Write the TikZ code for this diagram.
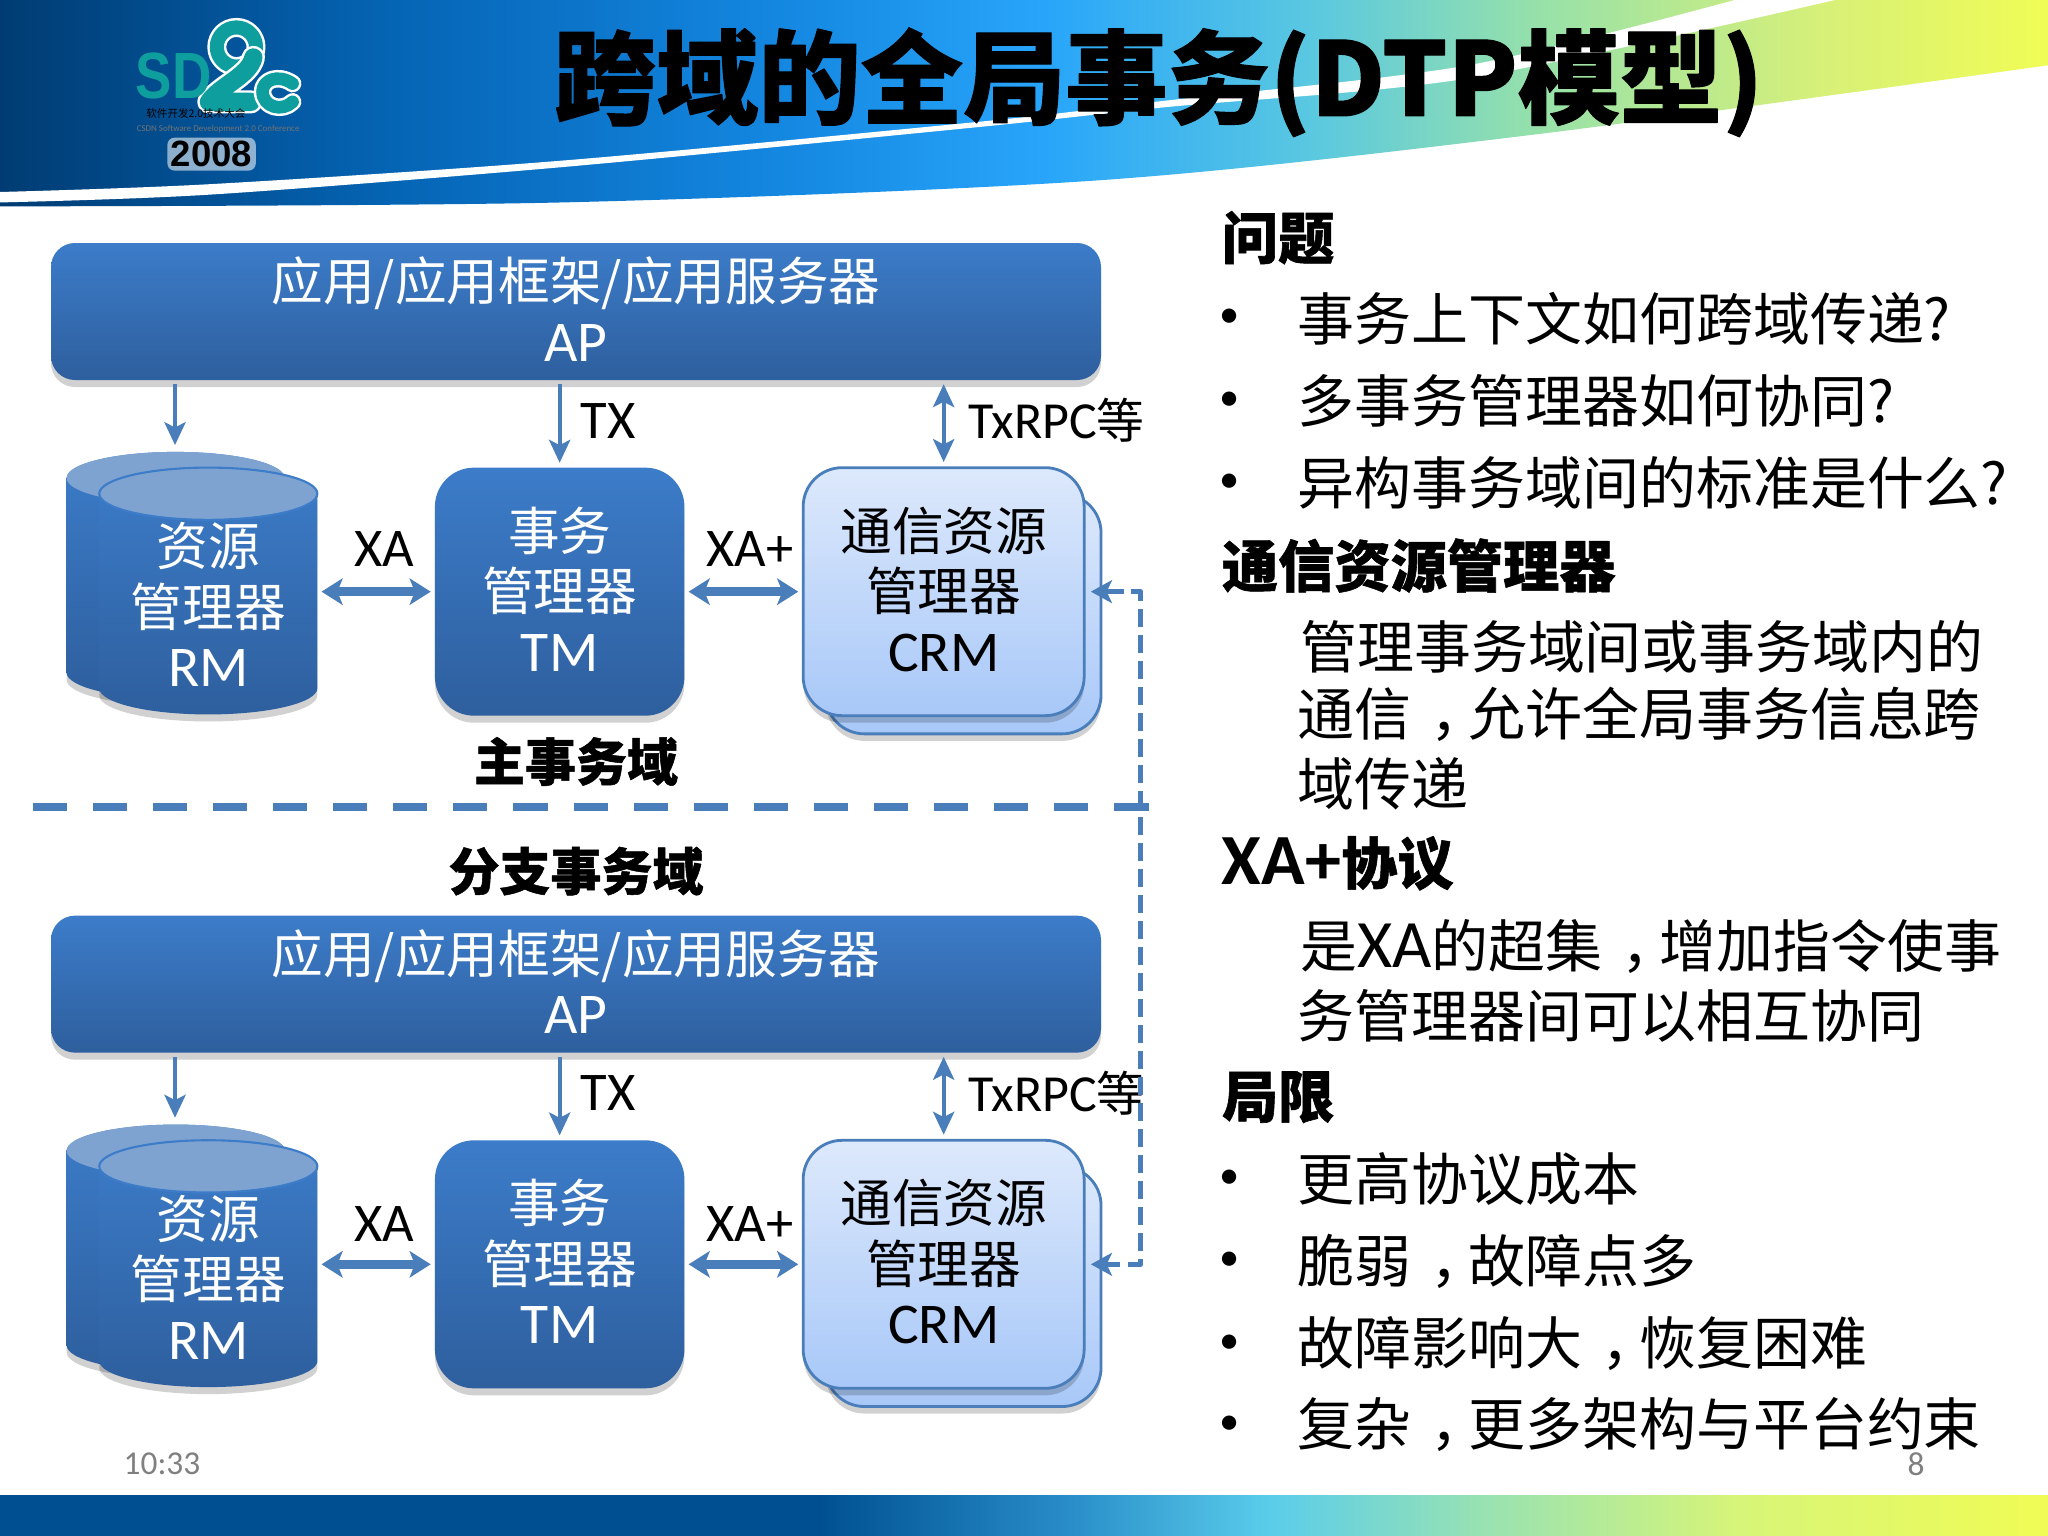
\documentclass[tikz,border=0pt]{standalone}
\usepackage{fontspec}
\usetikzlibrary{arrows.meta,shadows}
\setmainfont{Carlito}
\newfontfamily\cjk{Noto Sans CJK SC}
\newfontfamily\cjkhv[BoldFeatures={FakeBold=1}]{Noto Sans CJK SC}
\newfontfamily\arialb{Liberation Sans}
\newcommand\cn[1]{{\cjk\fontsize{14.7}{17.2}\selectfont #1}}
\newcommand\lastpad{\rule[-1.5pt]{0pt}{0pt}}
\newcommand\zhcomma{\hbox to 1em{\hskip .33em ，\hss}}
\definecolor{boxtop}{HTML}{3C7CC9}
\definecolor{boxbot}{HTML}{2E5F9E}
\definecolor{lnblue}{HTML}{4A7EBB}
\definecolor{crmtop}{HTML}{DDE9FC}
\definecolor{crmbot}{HTML}{A8C8F8}
\definecolor{capblue}{HTML}{7FA3D1}
\definecolor{logoteal}{HTML}{0F9E9E}
\definecolor{hza}{HTML}{003C73}
\definecolor{hzb}{HTML}{0564B4}
\definecolor{hzc}{HTML}{1487E1}
\definecolor{hzd}{HTML}{28A5FA}
\definecolor{hze}{HTML}{5AC8E1}
\definecolor{hzf}{HTML}{96E1AA}
\definecolor{hzg}{HTML}{D7F078}
\definecolor{hzh}{HTML}{F0FC55}
\definecolor{fza}{HTML}{005091}
\definecolor{fzb}{HTML}{288CC8}
\definecolor{fzc}{HTML}{5ACDEB}
\definecolor{fzd}{HTML}{96E1B4}
\definecolor{fze}{HTML}{D7F578}
\pgfdeclarehorizontalshading{headshade}{100bp}{color(0bp)=(hza);color(25bp)=(hza);color(34.5bp)=(hzb);color(44bp)=(hzc);color(50.5bp)=(hzd);color(57bp)=(hze);color(62.5bp)=(hzf);color(69.5bp)=(hzg);color(75bp)=(hzh);color(100bp)=(hzh)}
\pgfdeclarehorizontalshading{footshade}{100bp}{color(0bp)=(fza);color(45bp)=(fza);color(51bp)=(fzb);color(56bp)=(fzc);color(61bp)=(fzd);color(67.5bp)=(fze);color(75bp)=(hzh);color(100bp)=(hzh)}
\tikzset{
	softshadow/.style={drop shadow={shadow xshift=0pt,shadow yshift=-2pt,opacity=.18,fill=black}},
	bluebox/.style={rounded corners=.39cm,top color=boxtop,bottom color=boxbot,softshadow,text=white,align=center,inner sep=0pt,font=\fontsize{16.4}{17.2}\selectfont},
	apbox/.style={bluebox,rounded corners=.24cm,minimum width=10.5cm,minimum height=1.37cm},
	tmbox/.style={bluebox,minimum width=2.495cm,minimum height=2.48cm},
	crmbox/.style={rounded corners=.39cm,draw=lnblue,line width=.8pt,top color=crmtop,bottom color=crmbot,softshadow,align=center,inner sep=0pt,font=\fontsize{16.4}{17.2}\selectfont},
	cylfill/.style={top color=boxtop,bottom color=boxbot},
	linklab/.style={inner sep=0pt,font=\fontsize{15.5}{17}\selectfont},
	thinlink/.style={draw=lnblue,line width=1.2pt,shorten >=1.2pt,shorten <=1pt,>={Stealth[length=6.5pt,width=6pt,inset=1.5pt]}},
	fatlink/.style={draw=lnblue,line width=2.4pt,shorten >=1pt,shorten <=1pt,>={Stealth[length=6pt,width=7.5pt,inset=1.5pt]}},
	bodytxt/.style={anchor=west,inner sep=0pt,font=\cjk\fontsize{16.2}{18}\selectfont},
	headtxt/.style={anchor=west,inner sep=0pt,font=\cjkhv\bfseries\fontsize{16}{18}\selectfont},
	bulletdot/.style={inner sep=0pt,font=\fontsize{11.5}{13}\selectfont},
	domlab/.style={inner sep=0pt,font=\cjkhv\bfseries\fontsize{14.5}{17}\selectfont},
	pagenum/.style={inner sep=0pt,text=black!50,font=\fontsize{9.5}{11}\selectfont}
}
\begin{document}
\begin{tikzpicture}[x=.013061cm,y=-.013061cm,line join=round]
	\useasboundingbox (0,0) rectangle (1568,1176);
	\fill[white] (0,0) rectangle (1568,1176);
	% header and foot band
	\shade[shading=headshade] (0,0)--(1568,0)--plot[smooth] coordinates {(1568,50) (1175,103) (842,138) (430,155) (0,158)}--cycle;
	\fill[white] plot[smooth] coordinates {(0,147) (161,141) (430,123) (752,93) (893,77) (1124,50) (1328,0)}
	--plot[smooth] coordinates {(1405,0) (1124,60) (893,82) (752,97) (430,128) (161,149) (0,155)}--cycle;
	\shade[shading=footshade] (0,1145) rectangle (1568,1176);
	% logo
	\begin{scope}[draw=white,double=logoteal,line width=.7pt,line cap=round]
		\draw[double distance=4pt] (181,36) circle (15);
		\draw[double distance=5.2pt] (194,44)..controls (191,58) and (168,66)..(160,78)--(192,78);
		\draw[double distance=3.6pt] (224,64)..controls (212,56) and (201,62)..(201,70)..controls (201,82) and (216,86)..(224,78);
	\end{scope}
	\node[inner sep=0pt,text=logoteal,yscale=1.2,font=\arialb\bfseries\fontsize{15.5}{16}\selectfont] (logosd) at (133,58) {SD};
	\node[inner sep=0pt,font=\cjk\fontsize{3}{4}\selectfont] (logocn) at (150,87) {软件开发2.0技术大会};
	\node[inner sep=0pt,text=black!55,font=\fontsize{2.55}{3}\selectfont] (logoen) at (167,99) {CSDN Software Development 2.0 Conference};
	\node[inner sep=1pt,fill=white,fill opacity=.55,text opacity=1,rounded corners=2pt,font=\arialb\bfseries\fontsize{10.4}{12}\selectfont] (logoyr) at (162,118) {2008};
	% title
	\node[inner sep=0pt,font=\cjkhv\bfseries\fontsize{29.1}{32}\selectfont] (title) at (887,63) {跨域的全局事务(DTP模型)};
	% the two domains
	\foreach \k/\dy/\ly in {A/0/420,B/515/422}{
		\begin{scope}[shift={(0,\dy)}]
			\node[apbox] (ap\k) at (441,238.5) {\cn{应用/应用框架/应用服务器}\\AP\lastpad};
			\path[cylfill,softshadow] (51,366)--(51,515) arc (180:0:83.5 and 20)--(218,366) arc (0:-180:83.5 and 20)--cycle;
			\fill[capblue] (134.5,366) ellipse (83.5 and 20);
			\path[cylfill,softshadow] (76,378)--(76,527) arc (180:0:83.5 and 20)--(243,378) arc (0:-180:83.5 and 20)--cycle;
			\draw[fill=capblue,draw=boxtop,line width=.6pt] (159.5,378) ellipse (83.5 and 20);
			\node[minimum width=2.18cm,minimum height=2.48cm,inner sep=0pt] (rm\k) at (159.5,453) {};
			\coordinate (rmtop\k) at (134,344);
			\node[text=white,align=center,inner sep=0pt,font=\fontsize{16.4}{17.2}\selectfont] (rmtxt\k) at (159.5,463) {\cn{资源}\\\cn{管理器}\\RM};
			\node[tmbox] (tm\k) at (428.5,453) {\cn{事务}\\\cn{管理器}\\TM\lastpad};
			\node[crmbox,minimum width=2.756cm,minimum height=2.4cm] (crmback\k) at (737.5,470) {};
			\node[crmbox,minimum width=2.81cm,minimum height=2.48cm] (crm\k) at (722.5,453) {\cn{通信资源}\\\cn{管理器}\\CRM\lastpad};
			\draw[thinlink,->] (ap\k.south -| rmtop\k)--(rmtop\k);
			\draw[thinlink,->] (ap\k.south -| tm\k.north)--(tm\k.north);
			\draw[thinlink,<->] (ap\k.south -| crm\k.north)--(crm\k.north);
			\draw[fatlink,<->] (rm\k.east)--(tm\k.west);
			\draw[fatlink,<->] (tm\k.east)--(crm\k.west);
			\node[linklab] (tx\k) at (465.5,322) {TX};
			\node[linklab,anchor=west,font=\fontsize{14.8}{17}\selectfont] (rpc\k) at (741,322) {TxRPC{\cjk\fontsize{13.6}{17}\selectfont 等}};
			\node[linklab] (xa\k) at (294,\ly) {XA};
			\node[linklab] (xap\k) at (574,\ly) {XA+};
		\end{scope}
	}
	\node[domlab] (mainlab) at (441,583) {主事务域};
	\node[domlab] (branchlab) at (441,667) {分支事务域};
	% domain border and link between the two CRM
	\coordinate (sepl) at (25,618);
	\coordinate (sepr) at (893,618);
	\draw[draw=lnblue,line width=2.3pt,dash pattern=on 9.7pt off 7.4pt] (sepl)--(sepr);
	\draw[draw=lnblue,line width=1.6pt,dash pattern=on 5.2pt off 2.2pt,shorten <=1.5pt,shorten >=1.5pt,>={Stealth[length=6pt,width=6.5pt,inset=1.5pt]},<->]
	(crmA.east)--++(42,0)|-(crmB.east);
	% right column
	\node[headtxt] (q) at (935,182) {问题};
	\foreach \i/\yy/\txt in {1/244/事务上下文如何跨域传递?,2/307/多事务管理器如何协同?,3/370/异构事务域间的标准是什么?,4/903/更高协议成本,5/966/脆弱\zhcomma 故障点多,6/1029/故障影响大\zhcomma 恢复困难,7/1091/复杂\zhcomma 更多架构与平台约束}{
		\node[bulletdot] (dot\i) at (941,\yy) {•};
		\node[bodytxt] (item\i) at (993,\yy) {\txt};
	}
	\node[headtxt] (crmhead) at (935,433) {通信资源管理器};
	\node[bodytxt] (crmp1) at (995,495) {管理事务域间或事务域内的};
	\node[bodytxt] (crmp2) at (993,547) {通信\zhcomma 允许全局事务信息跨};
	\node[bodytxt] (crmp3) at (993,600) {域传递};
	\node[headtxt] (xahead) at (935,661) {{\rmfamily\fontsize{20.5}{20}\selectfont XA+}协议};
	\node[bodytxt] (xap1) at (995,725) {是{\rmfamily\fontsize{19.3}{20}\selectfont XA}的超集\zhcomma 增加指令使事};
	\node[bodytxt] (xap2) at (993,778) {务管理器间可以相互协同};
	\node[headtxt] (limhead) at (935,840) {局限};
	\node[pagenum] (clock) at (124,1121) {10:33};
	\node[pagenum] (pageno) at (1467,1121) {8};
\end{tikzpicture}
\end{document}
